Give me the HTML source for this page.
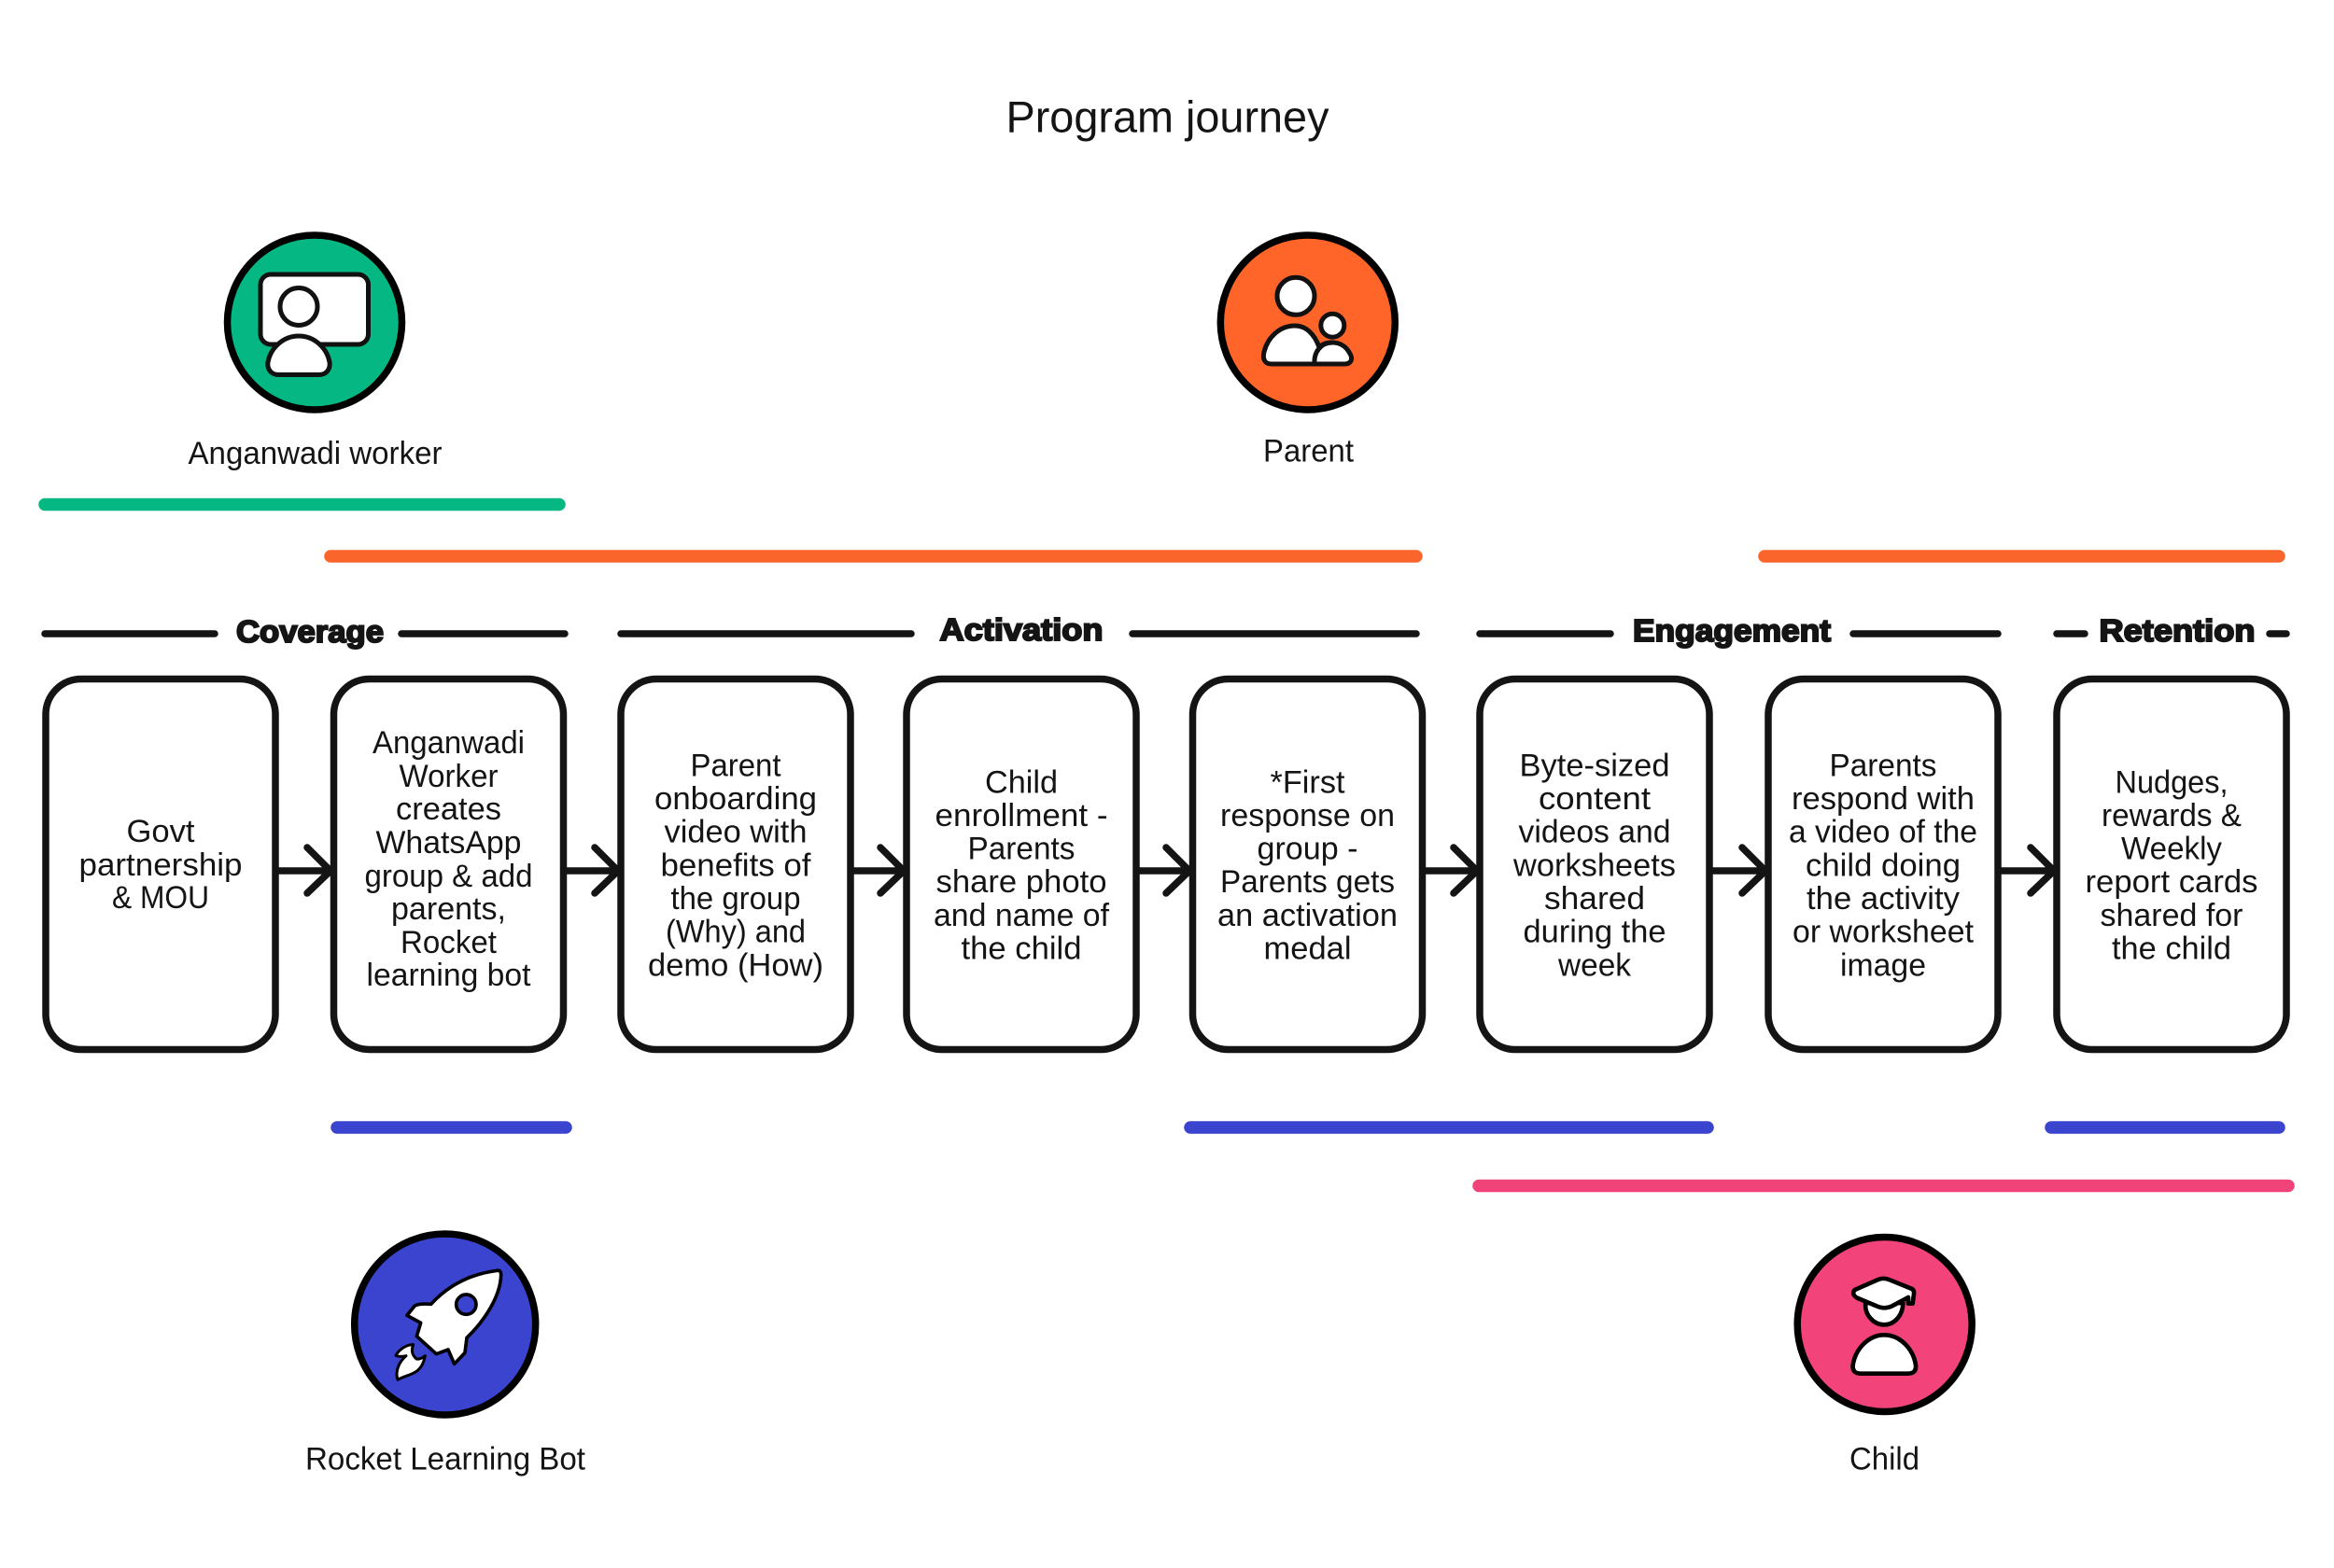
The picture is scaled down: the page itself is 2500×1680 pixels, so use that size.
<!DOCTYPE html>
<html><head><meta charset="utf-8"><title>Program journey</title>
<style>
html,body{margin:0;padding:0;background:#fff;width:2500px;height:1680px;overflow:hidden}
svg{display:block}
text{font-family:"Liberation Sans",sans-serif;fill:#141414}
.t{font-size:34px;text-anchor:middle}
.h{font-size:33px;font-weight:bold;text-anchor:middle;stroke:#141414;stroke-width:2px}
.b{fill:#fff;stroke:#141414;stroke-width:7.500}
.l{stroke:#141414;stroke-width:7.500;stroke-linecap:round;fill:none}
.a{stroke:#141414;stroke-width:7.500;fill:none;stroke-linecap:round;stroke-linejoin:round}
.i{fill:#fff;stroke:#111;stroke-width:5;stroke-linejoin:round}
.c{stroke:#000;stroke-width:7.500}
</style></head><body>
<svg width="2500" height="1680" viewBox="0 0 2500 1680" xmlns="http://www.w3.org/2000/svg">
<rect width="2500" height="1680" fill="#fff"/>
<text x="1250.500" y="141.500" style="font-size:47px;text-anchor:middle" textLength="346" lengthAdjust="spacingAndGlyphs">Program journey</text>

<!-- Anganwadi -->
<circle class="c" cx="337" cy="345.500" r="93.500" fill="#05B783"/>
<rect class="i" x="279" y="294" width="115.500" height="75" rx="11"/>
<circle class="i" cx="320" cy="328.500" r="20"/>
<path class="i" d="M298 401.500 H342 C350 401.500 354 395 353 388 C350 372 336 360 320 360 C304 360 290 372 287 388 C286 395 290 401.500 298 401.500Z"/>
<text x="337.500" y="497" class="t" textLength="272" lengthAdjust="spacingAndGlyphs">Anganwadi worker</text>

<!-- Parent -->
<circle class="c" cx="1400.800" cy="345.500" r="93.500" fill="#FF6529"/>
<circle class="i" cx="1388" cy="317.300" r="20"/>
<path class="i" d="M1362 390 H1440 C1448 390 1449 384 1446 379 C1442 371 1435 367 1427 367 C1420 367 1416 369 1413 372 C1408 358 1399 349 1387 349 C1371 349 1358 361 1354 377 C1352 385 1355 390 1362 390Z"/>
<path class="i" d="M1408 390 C1407 377 1415 367 1427 367"/>
<circle class="i" cx="1427.300" cy="348.700" r="12.500"/>
<text x="1401.500" y="494.500" class="t" textLength="97" lengthAdjust="spacingAndGlyphs">Parent</text>

<!-- Rocket -->
<circle class="c" cx="476.700" cy="1419" r="97" fill="#3A44CF"/>
<g transform="translate(340,1290) scale(.33333)" fill="#fff" stroke="#000" stroke-width="11" stroke-linejoin="round">
<path d="M578 214 C490 225 420 262 365 322 C340 320 320 322 312 328 L288 358 L332 382 L319 425 L382 482 L420 468 L440 514 L474 478 L480 430 C540 372 588 295 590 228 Q590 212 578 214Z"/>
<circle cx="478" cy="323" r="32" fill="#3A44CF"/>
<path d="M308 452 C285 452 262 468 252 487 C262 492 275 490 285 488 C265 505 248 535 258 565 C290 545 335 552 346 488 C338 495 328 500 318 498 C310 490 298 478 308 452Z" stroke-width="9"/>
</g>
<text x="477" y="1574.500" class="t" textLength="300" lengthAdjust="spacingAndGlyphs">Rocket Learning Bot</text>

<!-- Child -->
<circle class="c" cx="2018.700" cy="1419" r="93.500" fill="#F2437B"/>
<g transform="translate(1900,1290) scale(.33333)" fill="#fff" stroke="#000" stroke-width="14" stroke-linejoin="round">
<path d="M295 318 C290 355 320 388 355 388 C390 388 415 355 415 318 Z"/>
<path d="M335 243 Q352 236 370 243 L442 272 Q452 276 450 290 L446 320 L432 320 L432 300 L380 328 Q355 340 330 328 L268 302 Q248 290 260 276 Z"/>
<path d="M280 545 H430 C450 545 458 535 456 518 C448 465 405 421 355 421 C305 421 262 465 254 518 C252 535 260 545 280 545Z"/>
</g>
<text x="2018.500" y="1574.500" class="t" textLength="75" lengthAdjust="spacingAndGlyphs">Child</text>

<!-- Bars -->
<g stroke-width="13.500" stroke-linecap="round">
<line x1="48" y1="540.500" x2="599" y2="540.500" stroke="#05B783"/>
<line x1="354" y1="596" x2="1517" y2="596" stroke="#F9652B"/>
<line x1="1890" y1="596" x2="2441" y2="596" stroke="#F9652B"/>
<line x1="361" y1="1208" x2="606" y2="1208" stroke="#3A44CF"/>
<line x1="1275" y1="1208" x2="1829" y2="1208" stroke="#3A44CF"/>
<line x1="2197" y1="1208" x2="2441" y2="1208" stroke="#3A44CF"/>
<line x1="1584" y1="1270.500" x2="2451" y2="1270.500" stroke="#EF4379"/>
</g>

<!-- Header lines -->
<path class="l" d="M48 679H230M430 679H605M665 679H976M1213 679H1517M1585 679H1725M1985 679H2140M2203 679H2233M2431 679H2449"/>
<text x="332" y="688" class="h" textLength="158" lengthAdjust="spacingAndGlyphs">Coverage</text>
<text x="1094" y="686" class="h" textLength="175" lengthAdjust="spacingAndGlyphs">Activation</text>
<text x="1855" y="687" class="h" textLength="212" lengthAdjust="spacingAndGlyphs">Engagement</text>
<text x="2332" y="687" class="h" textLength="167" lengthAdjust="spacingAndGlyphs">Retention</text>

<!-- Boxes -->
<rect class="b" x="49" y="727.500" width="246" height="397" rx="38"/>
<rect class="b" x="357.500" y="727.500" width="246" height="397" rx="38"/>
<rect class="b" x="665" y="727.500" width="246" height="397" rx="38"/>
<rect class="b" x="971" y="727.500" width="246" height="397" rx="38"/>
<rect class="b" x="1277.500" y="727.500" width="246" height="397" rx="38"/>
<rect class="b" x="1585" y="727.500" width="246" height="397" rx="38"/>
<rect class="b" x="1894" y="727.500" width="246" height="397" rx="38"/>
<rect class="b" x="2203" y="727.500" width="246" height="397" rx="38"/>

<!-- Arrows -->
<path class="a" d="M298 933H352M329 908L354 933L329 957"/>
<path class="a" d="M607 933H660M637 908L662 933L637 957"/>
<path class="a" d="M914 933H966M943 908L968 933L943 957"/>
<path class="a" d="M1220 933H1272M1249 908L1274 933L1249 957"/>
<path class="a" d="M1527 933H1580M1557 908L1582 933L1557 957"/>
<path class="a" d="M1834 933H1889M1866 908L1891 933L1866 957"/>
<path class="a" d="M2143 933H2198M2175 908L2200 933L2175 957"/>

<!-- Box 1 -->
<g class="t">
<text x="172" y="902" textLength="73" lengthAdjust="spacingAndGlyphs">Govt</text>
<text x="172" y="938" textLength="175" lengthAdjust="spacingAndGlyphs">partnership</text>
<text x="172" y="973" textLength="104" lengthAdjust="spacingAndGlyphs">&amp; MOU</text>
</g>
<!-- Box 2 -->
<g class="t">
<text x="480.500" y="807" textLength="163" lengthAdjust="spacingAndGlyphs">Anganwadi</text>
<text x="480.500" y="843" textLength="106" lengthAdjust="spacingAndGlyphs">Worker</text>
<text x="480.500" y="878" textLength="113" lengthAdjust="spacingAndGlyphs">creates</text>
<text x="480.500" y="914" textLength="156" lengthAdjust="spacingAndGlyphs">WhatsApp</text>
<text x="480.500" y="950" textLength="180" lengthAdjust="spacingAndGlyphs">group &amp; add</text>
<text x="480.500" y="985" textLength="123" lengthAdjust="spacingAndGlyphs">parents,</text>
<text x="480.500" y="1021" textLength="103" lengthAdjust="spacingAndGlyphs">Rocket</text>
<text x="480.500" y="1056" textLength="176" lengthAdjust="spacingAndGlyphs">learning bot</text>
</g>
<!-- Box 3 -->
<g class="t">
<text x="788" y="831.500" textLength="97" lengthAdjust="spacingAndGlyphs">Parent</text>
<text x="788" y="867" textLength="174" lengthAdjust="spacingAndGlyphs">onboarding</text>
<text x="788" y="902.500" textLength="153" lengthAdjust="spacingAndGlyphs">video with</text>
<text x="788" y="938.500" textLength="161" lengthAdjust="spacingAndGlyphs">benefits of</text>
<text x="788" y="974" textLength="139" lengthAdjust="spacingAndGlyphs">the group</text>
<text x="788" y="1009.500" textLength="150" lengthAdjust="spacingAndGlyphs">(Why) and</text>
<text x="788" y="1045.500" textLength="188" lengthAdjust="spacingAndGlyphs">demo (How)</text>
</g>
<!-- Box 4 -->
<g class="t">
<text x="1094" y="849.500" textLength="78" lengthAdjust="spacingAndGlyphs">Child</text>
<text x="1094" y="885" textLength="185" lengthAdjust="spacingAndGlyphs">enrollment -</text>
<text x="1094" y="920.500" textLength="115" lengthAdjust="spacingAndGlyphs">Parents</text>
<text x="1094" y="956" textLength="183" lengthAdjust="spacingAndGlyphs">share photo</text>
<text x="1094" y="992" textLength="188" lengthAdjust="spacingAndGlyphs">and name of</text>
<text x="1094" y="1027.500" textLength="129" lengthAdjust="spacingAndGlyphs">the child</text>
</g>
<!-- Box 5 -->
<g class="t">
<text x="1400.500" y="849.500" textLength="80" lengthAdjust="spacingAndGlyphs">*First</text>
<text x="1400.500" y="885" textLength="187" lengthAdjust="spacingAndGlyphs">response on</text>
<text x="1400.500" y="920.500" textLength="108" lengthAdjust="spacingAndGlyphs">group -</text>
<text x="1400.500" y="956" textLength="187" lengthAdjust="spacingAndGlyphs">Parents gets</text>
<text x="1400.500" y="992" textLength="193" lengthAdjust="spacingAndGlyphs">an activation</text>
<text x="1400.500" y="1027.500" textLength="94" lengthAdjust="spacingAndGlyphs">medal</text>
</g>
<!-- Box 6 -->
<g class="t">
<text x="1708" y="831.500" textLength="161" lengthAdjust="spacingAndGlyphs">Byte-sized</text>
<text x="1708" y="867" textLength="120" lengthAdjust="spacingAndGlyphs">content</text>
<text x="1708" y="902.500" textLength="163" lengthAdjust="spacingAndGlyphs">videos and</text>
<text x="1708" y="938.500" textLength="174" lengthAdjust="spacingAndGlyphs">worksheets</text>
<text x="1708" y="974" textLength="108" lengthAdjust="spacingAndGlyphs">shared</text>
<text x="1708" y="1009.500" textLength="153" lengthAdjust="spacingAndGlyphs">during the</text>
<text x="1708" y="1045.500" textLength="78" lengthAdjust="spacingAndGlyphs">week</text>
</g>
<!-- Box 7 -->
<g class="t">
<text x="2017" y="831.500" textLength="115" lengthAdjust="spacingAndGlyphs">Parents</text>
<text x="2017" y="867" textLength="196" lengthAdjust="spacingAndGlyphs">respond with</text>
<text x="2017" y="902.500" textLength="202" lengthAdjust="spacingAndGlyphs">a video of the</text>
<text x="2017" y="938.500" textLength="166" lengthAdjust="spacingAndGlyphs">child doing</text>
<text x="2017" y="974" textLength="164" lengthAdjust="spacingAndGlyphs">the activity</text>
<text x="2017" y="1009.500" textLength="194" lengthAdjust="spacingAndGlyphs">or worksheet</text>
<text x="2017" y="1045.500" textLength="92" lengthAdjust="spacingAndGlyphs">image</text>
</g>
<!-- Box 8 -->
<g class="t">
<text x="2326" y="849.500" textLength="121" lengthAdjust="spacingAndGlyphs">Nudges,</text>
<text x="2326" y="885" textLength="150" lengthAdjust="spacingAndGlyphs">rewards &amp;</text>
<text x="2326" y="920.500" textLength="108" lengthAdjust="spacingAndGlyphs">Weekly</text>
<text x="2326" y="956" textLength="185" lengthAdjust="spacingAndGlyphs">report cards</text>
<text x="2326" y="992" textLength="153" lengthAdjust="spacingAndGlyphs">shared for</text>
<text x="2326" y="1027.500" textLength="128" lengthAdjust="spacingAndGlyphs">the child</text>
</g>
</svg>
</body></html>
